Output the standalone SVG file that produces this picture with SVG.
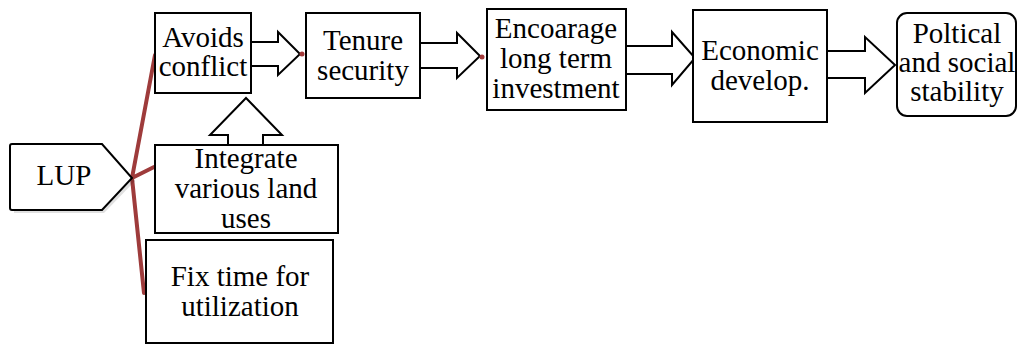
<svg xmlns="http://www.w3.org/2000/svg" width="1020" height="345" viewBox="0 0 1020 345">
<style>
.box{fill:#fff;stroke:#000;stroke-width:2}
.shd{fill:#000;fill-opacity:0.12;stroke:none}
.arr{fill:#fff;stroke:#000;stroke-width:2;stroke-linejoin:miter}
.red{fill:none;stroke:#9e3b3b;stroke-width:4;stroke-linecap:round}
.dot{fill:#a33a3a}
</style>
<rect width="1020" height="345" fill="#fff"/>
<g id="connectors">
<polygon class="arr" points="251,42 278,42 278,32 300,54 278,75 278,66 251,66"/>
<polygon class="arr" points="420,43 457,43 457,33 480,56 457,78 457,68 420,68"/>
<polygon class="arr" points="626,46 672,46 672,32 695,58 672,85 672,74 626,74"/>
<polygon class="arr" points="827,51 865,51 865,37 895,65 865,93 865,78 827,78"/>
<polygon class="arr" points="228,145 228,135 210,135 246,98 282,135 263,135 263,145"/>
<path class="red" d="M155,55 L132,178 L144,293 M132,178 L154,167"/>
<circle class="dot" cx="302" cy="54" r="2.5"/>
<circle class="dot" cx="482" cy="57" r="2.5"/>
</g>
<g id="lup">
<path class="shd" d="M14,147 L104,147 L135,181 L104,213 L14,213 Z"/>
<path class="box" d="M12,144 L102,144 L132,178 L102,210 L12,210 Q10,210 10,208 L10,146 Q10,144 12,144 Z"/>
<text x="64" y="185" font-family="Liberation Serif" font-size="29" text-anchor="middle">LUP</text>
</g>
<g id="avoids">
<rect class="box" x="155" y="13" width="96" height="80"/>
<text x="203" y="47" font-family="Liberation Serif" font-size="29" text-anchor="middle">Avoids</text>
<text x="203" y="76" font-family="Liberation Serif" font-size="29" text-anchor="middle">conflict</text>
</g>
<g id="tenure">
<rect class="box" x="306" y="13" width="114" height="85"/>
<text x="363" y="50" font-family="Liberation Serif" font-size="29" text-anchor="middle">Tenure</text>
<text x="363" y="80" font-family="Liberation Serif" font-size="29" text-anchor="middle">security</text>
</g>
<g id="encourage">
<rect class="box" x="487" y="9" width="139" height="101"/>
<text x="556" y="38" font-family="Liberation Serif" font-size="29" text-anchor="middle">Encoarage</text>
<text x="556" y="68" font-family="Liberation Serif" font-size="29" text-anchor="middle">long term</text>
<text x="556" y="98" font-family="Liberation Serif" font-size="29" text-anchor="middle">investment</text>
</g>
<g id="economic">
<rect class="box" x="693" y="10" width="134" height="112"/>
<text x="760" y="60" font-family="Liberation Serif" font-size="29" text-anchor="middle">Economic</text>
<text x="760" y="90" font-family="Liberation Serif" font-size="29" text-anchor="middle">develop.</text>
</g>
<g id="political">
<rect class="box" x="897" y="13" width="119" height="103" rx="10" ry="10"/>
<text x="957" y="43" font-family="Liberation Serif" font-size="29" text-anchor="middle">Poltical</text>
<text x="957" y="72" font-family="Liberation Serif" font-size="29" text-anchor="middle">and social</text>
<text x="957" y="101" font-family="Liberation Serif" font-size="29" text-anchor="middle">stability</text>
</g>
<g id="integrate">
<rect class="box" x="155" y="145" width="183" height="88"/>
<text x="246" y="168" font-family="Liberation Serif" font-size="29" text-anchor="middle">Integrate</text>
<text x="246" y="198" font-family="Liberation Serif" font-size="29" text-anchor="middle">various land</text>
<text x="246" y="228" font-family="Liberation Serif" font-size="29" text-anchor="middle">uses</text>
</g>
<g id="fixtime">
<rect class="box" x="146" y="240" width="187" height="103"/>
<text x="240" y="286" font-family="Liberation Serif" font-size="29" text-anchor="middle">Fix time for</text>
<text x="240" y="316" font-family="Liberation Serif" font-size="29" text-anchor="middle">utilization</text>
</g>
</svg>
